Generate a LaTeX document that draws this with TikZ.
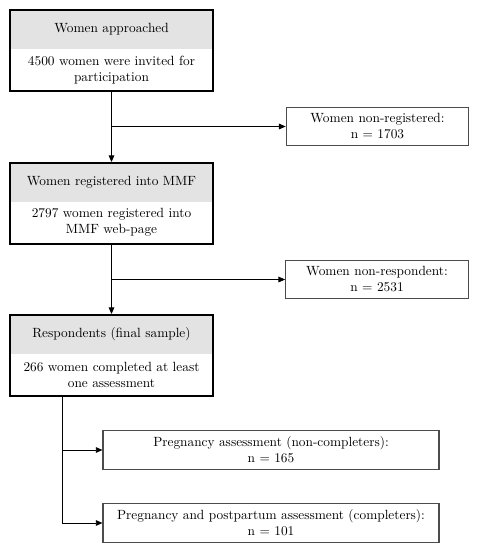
\documentclass[tikz,border=0pt]{standalone}
\usepackage{tikz}
\usetikzlibrary{arrows.meta,positioning,calc,fit}
\tikzset{
  >={Triangle[length=5pt,width=4.2pt]},
  hdr/.style  ={rectangle, fill=black!11, minimum width=152pt,
                minimum height=29pt, inner sep=0pt, align=center},
  bdy/.style  ={rectangle, minimum width=152pt, minimum height=31.5pt,
                inner sep=0pt, align=center},
  frm/.style  ={rectangle, draw, line width=1.2pt, inner sep=0pt},
  side/.style ={rectangle, draw=black!70, line width=0.8pt, inner sep=0pt,
                minimum height=29pt, align=center},
  con/.style  ={->, draw, line width=0.7pt},
}

\begin{document}
\begin{tikzpicture}[x=0.75pt,y=-0.75pt]
\useasboundingbox (0,0) rectangle (477,550);
% main column
\node[hdr] (apprh) at (111.5,29.5)  {Women approached};
\node[bdy] (apprb) at (111.5,70)    {4500 women were invited for\\participation};
\node[frm, fit=(apprh)(apprb)] (appr) {};
\node[hdr] (regh)  at (111.5,182.5) {Women registered into MMF};
\node[bdy] (regb)  at (111.5,222.5) {2797 women registered into\\MMF web-page};
\node[frm, fit=(regh)(regb)] (reg) {};
\node[hdr] (resph) at (111.5,334.5) {Respondents (final sample)};
\node[bdy] (respb) at (111.5,375)   {266 women completed at least\\one assessment};
\node[frm, fit=(resph)(respb)] (resp) {};
% side boxes
\node[side, minimum width=137pt] (nreg)  at (377.5,126.5) {Women non-registered:\\n = 1703};
\node[side, minimum width=137pt] (nresp) at (377,279.5)   {Women non-respondent:\\n = 2531};
\node[side, minimum width=252pt] (preg)  at (271,450)     {Pregnancy assessment (non-completers):\\n = 165};
\node[side, minimum width=252pt] (post)  at (271,523)     {Pregnancy and postpartum assessment (completers):\\n = 101};
% connectors
\draw[con] (appr) -- (reg);
\draw[con] (appr.south |- nreg) -- (nreg.west);
\draw[con] (reg) -- (resp);
\draw[con] (reg.south |- nresp) -- (nresp.west);
\draw[con] ($(resp.south west)+(53,0)$) |- (preg.west);
\draw[con] ($(resp.south west)+(53,0)$) |- (post.west);
\end{tikzpicture}
\end{document}
